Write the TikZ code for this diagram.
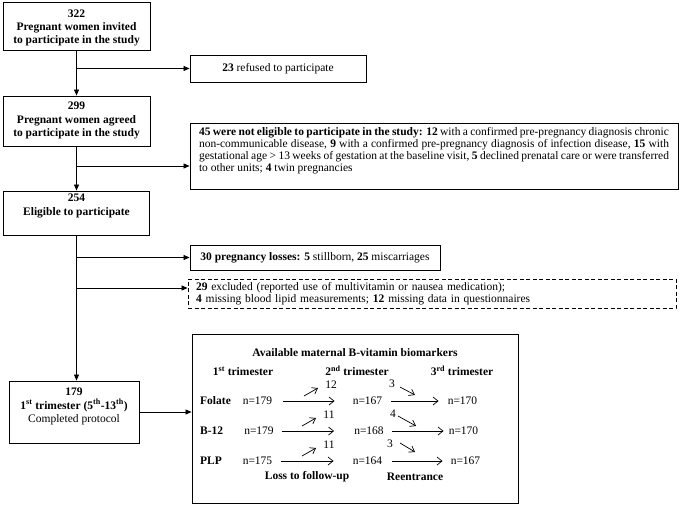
\documentclass[tikz,border=0pt]{standalone}
\usepackage{fontspec}
\setmainfont{Liberation Serif}
\usetikzlibrary{arrows.meta}
\tikzset{
  rbox/.style={draw, line width=0.9pt, rectangle, inner sep=0pt},
  dbox/.style={rbox, dash pattern=on 4pt off 2.5pt},
  txt/.style={inner sep=0pt, align=center, font=\fontsize{11.5}{13.3}\selectfont},
  flow/.style={line width=0.8pt, -{Triangle[length=6pt,width=5pt]}},
  barb/.style={line width=0.7pt, -{Straight Barb[length=5pt,width=8pt]}},
  sbarb/.style={line width=0.7pt, -{Straight Barb[length=5pt,width=7pt]}}
}
\begin{document}
\begin{tikzpicture}[x=1pt,y=-1pt]
\useasboundingbox (0,0) rectangle (685,506);
% left column boxes
\node[rbox, minimum width=147pt, minimum height=48pt] (b1) at (76.5,26.5) {};
\node[txt] (t1) at (76.5,28) {\textbf{322}\\\textbf{Pregnant women invited}\\\textbf{to participate in the study}};
\node[rbox, minimum width=147pt, minimum height=50pt] (b2) at (76.5,121) {};
\node[txt] (t2) at (76.5,120.5) {\textbf{299}\\\textbf{Pregnant women agreed}\\\textbf{to participate in the study}};
\node[rbox, minimum width=146pt, minimum height=44pt] (b3) at (76.5,213) {};
\node[txt] (t3) at (76.5,206) {\textbf{254}\\\textbf{Eligible to participate}};
\node[rbox, minimum width=130pt, minimum height=62pt] (b179) at (74,412) {};
\node[txt] (t179) at (74,406.5) {\textbf{179}\\\textbf{1\textsuperscript{st} trimester (5\textsuperscript{th}-13\textsuperscript{th})}\\Completed protocol};
% right column boxes
\node[rbox, minimum width=176pt, minimum height=27pt] (b23) at (278,68.5) {};
\node[txt] (t23) at (278,69) {\textbf{23} refused to participate};
\node[rbox, minimum width=488pt, minimum height=66pt] (b45) at (434,156) {};
\node[txt, text width=470pt, align=justify, font=\fontsize{11.5}{11.9}\selectfont] (t45) at (434,151) {\textbf{45 were not eligible to participate in the study: 12} with a confirmed pre-pregnancy diagnosis chronic\linebreak non-communicable disease, \textbf{9} with a confirmed pre-pregnancy diagnosis of infection disease, \textbf{15} with\linebreak gestational age {>} 13 weeks of gestation at the baseline visit, \textbf{5} declined prenatal care or were transferred\linebreak to other units; \textbf{4} twin pregnancies};
\node[rbox, minimum width=250pt, minimum height=25pt] (b30) at (315,257.5) {};
\node[txt] (t30) at (315,258) {\textbf{30 pregnancy losses: 5} stillborn, \textbf{25} miscarriages};
\node[dbox, minimum width=488pt, minimum height=29pt] (bd) at (432,293.5) {};
\node[txt, text width=472pt, align=left, font=\fontsize{11.5}{12}\selectfont] (td) at (432,294) {\textbf{29} excluded (reported use of multivitamin or nausea medication);\\\textbf{4} missing blood lipid measurements; \textbf{12} missing data in questionnaires};
% biomarker box
\node[rbox, minimum width=326pt, minimum height=169pt] (bio) at (355,418.5) {};
\node[txt] (title) at (355,353) {\textbf{Available maternal B-vitamin biomarkers}};
\node[txt] (h1) at (243,371) {\textbf{1\textsuperscript{st} trimester}};
\node[txt] (h2) at (357,371) {\textbf{2\textsuperscript{nd} trimester}};
\node[txt] (h3) at (462,371) {\textbf{3\textsuperscript{rd} trimester}};
\node[txt, anchor=west] (r1) at (200,401) {\textbf{Folate}};
\node[txt, anchor=west] (r2) at (200,431) {\textbf{B-12}};
\node[txt, anchor=west] (r3) at (200,461) {\textbf{PLP}};
\node[txt] (a1) at (257.5,401) {n=179};
\node[txt] (a2) at (367.5,401) {n=167};
\node[txt] (a3) at (462.5,401) {n=170};
\node[txt] (b1n) at (259,431) {n=179};
\node[txt] (b2n) at (369,431) {n=168};
\node[txt] (b3n) at (463.5,431) {n=170};
\node[txt] (c1) at (257.5,461) {n=175};
\node[txt] (c2) at (367.5,461) {n=164};
\node[txt] (c3) at (465.5,461) {n=167};
\node[txt] (l1) at (331,385) {12};
\node[txt] (l2) at (329,415) {11};
\node[txt] (l3) at (329,445) {11};
\node[txt] (m1) at (392,384) {3};
\node[txt] (m2) at (393,414) {4};
\node[txt] (m3) at (390,444) {3};
\node[txt] (loss) at (307,477) {\textbf{Loss to follow-up}};
\node[txt] (reen) at (415,477) {\textbf{Reentrance}};
% horizontal arrows in biomarker box
\draw[barb] ([xshift=11pt]a1.east) -- ([xshift=-18pt]a2.west);
\draw[barb] ([xshift=9pt]a2.east) -- ([xshift=-9pt]a3.west);
\draw[barb] ([xshift=8pt]b1n.east) -- ([xshift=-20pt]b2n.west);
\draw[barb] ([xshift=8pt]b2n.east) -- ([xshift=-5pt]b3n.west);
\draw[barb] ([xshift=9pt]c1.east) -- ([xshift=-19pt]c2.west);
\draw[barb] ([xshift=10pt]c2.east) -- ([xshift=-8pt]c3.west);
% small diagonal arrows
\coordinate (u1s) at (304,396); \coordinate (u1e) at (318,388);
\coordinate (u2s) at (302,426); \coordinate (u2e) at (316,418);
\coordinate (u3s) at (302,456); \coordinate (u3e) at (316,448);
\coordinate (d1s) at (400,387); \coordinate (d1e) at (415,395);
\coordinate (d2s) at (398,416); \coordinate (d2e) at (416,426);
\coordinate (d3s) at (400,443); \coordinate (d3e) at (415,452);
\draw[sbarb] (u1s) -- (u1e);
\draw[sbarb] (u2s) -- (u2e);
\draw[sbarb] (u3s) -- (u3e);
\draw[sbarb] (d1s) -- (d1e);
\draw[sbarb] (d2s) -- (d2e);
\draw[sbarb] (d3s) -- (d3e);
% flow connectors
\draw[flow] (b1.south) -- (b2.north);
\draw[flow] (b1.south |- b23.west) -- (b23.west);
\coordinate (j2) at (76.5,166);
\draw[flow] (j2) -- (j2 -| b45.west);
\draw[flow] (b2.south) -- (b3.north);
\draw[flow] (b3.south) -- (b3.south |- b179.north);
\draw[flow] (b3.south |- b30.west) -- (b30.west);
\coordinate (j4) at (76.5,288);
\draw[flow] (j4) -- (j4 -| bd.west);
\draw[flow] (b179.east) -- (b179.east -| bio.west);
\end{tikzpicture}
\end{document}
